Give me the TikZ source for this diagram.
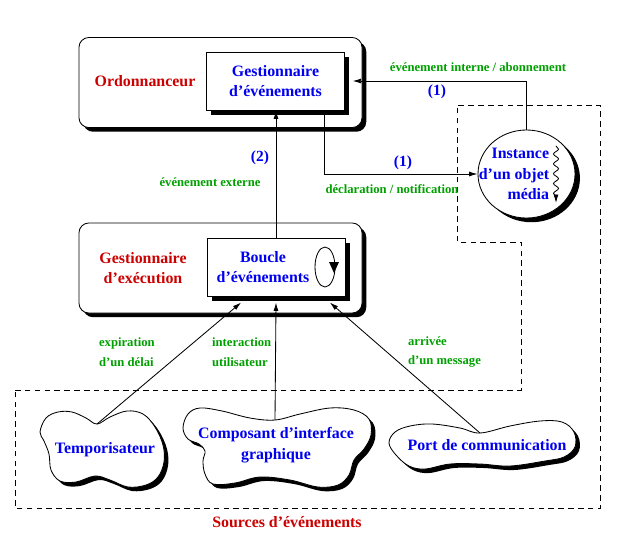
\documentclass[tikz,border=0pt]{standalone}
\usepackage{fontspec}
\setmainfont{Liberation Serif}
\usepackage{tikz}
\usetikzlibrary{shapes.geometric, shadows, arrows.meta, decorations.pathmorphing}

\definecolor{titlered}{RGB}{204,0,0}
\definecolor{textblue}{RGB}{0,0,240}
\definecolor{labelgreen}{RGB}{0,160,0}

\tikzset{
  blackshadow/.style={drop shadow={fill=black, opacity=1, shadow xshift=#1, shadow yshift=-#1}},
  outerbox/.style={draw, fill=white, rounded corners=7pt, minimum width=7.075cm,
    minimum height=2.25cm, blackshadow=3pt},
  innerbox/.style={draw, fill=white, minimum width=3.45cm, minimum height=1.45cm,
    blackshadow=3.5pt},
  bluetext/.style={font=\fontsize{11.3}{14.5}\selectfont\bfseries, text=textblue, align=center},
  redtext/.style={font=\fontsize{11.3}{14.5}\selectfont\bfseries, text=titlered, align=center},
  greentext/.style={font=\fontsize{9}{14}\selectfont\bfseries, text=labelgreen},
  num/.style={font=\fontsize{11}{13}\selectfont\bfseries, text=textblue},
  arr/.style={-{Latex[length=6pt,width=3.5pt]}},
  cloudshade/.style={fill=black},
  cloudbody/.style={draw, fill=white},
}

\begin{document}
\begin{tikzpicture}[x=0.025cm, y=-0.025cm, line width=0.6pt]
\useasboundingbox (0,0) rectangle (643,542);

% zone des sources
\draw[dash pattern=on 4pt off 3pt] (15,390) -- (521,390) -- (521,242) -- (457,242)
  -- (457,105) -- (600,105) -- (600,508) -- (15,508) -- cycle;
\node[redtext] at (287,522) {Sources d’événements};

% ordonnanceur
\node[outerbox] (ordo) at (220.5,82.5) {};
\node[redtext] at (145,81) {Ordonnanceur};
\node[innerbox, bluetext] (gest) at (275.5,81) {Gestionnaire\\d’événements};

% gestionnaire d'execution
\node[outerbox] (exec) at (220.5,268) {};
\node[redtext] at (143,268) {Gestionnaire\\d’exécution};
\node[innerbox] (boucle) at (276,267) {};
\node[bluetext] at (263,267) {Boucle\\d’événements};
\draw (325,267) ellipse (10 and 20);
\fill (329,262) -- (339,262) -- (334,273) -- cycle;

% objet media
\node[draw, fill=white, ellipse, minimum width=2.425cm, minimum height=2.2cm,
  drop shadow={fill=black, opacity=1, shadow xshift=3.5pt, shadow yshift=-3pt}] (inst) at (526.5,174) {};
\node[bluetext, align=right] at (514,174) {Instance\\d’un objet\\média};
\draw[decorate, decoration={snake, amplitude=1.8pt, segment length=7pt, post length=4pt}, arr]
  (556,146) -- (556,203);

% sources
\foreach \s/\st in {4/cloudshade, 0/cloudbody} {
  \path[\st, shift={(\s,\s)}] plot[smooth cycle, tension=0.6] coordinates {
    (40,432) (46,418) (58,412) (72,412) (86,418) (97,424) (110,417) (127,411)
    (143,414) (155,427) (163,445) (164,462) (158,477) (146,485) (128,487)
    (110,480) (95,476) (76,482) (60,481) (51,470) (49,454) (44,441)};
  \path[\st, shift={(\s,\s)}] plot[smooth cycle, tension=0.6] coordinates {
    (183,428) (188,414) (200,408) (222,411) (250,418) (275,420) (300,414)
    (330,408) (354,410) (369,419) (371,435) (364,449) (354,460) (349,475)
    (338,485) (318,487) (290,480) (260,477) (235,483) (213,484) (205,474)
    (203,461) (205,451) (199,444) (188,439)};
  \path[\st, shift={(\s,\s)}] plot[smooth cycle, tension=0.6] coordinates {
    (389,443) (395,432) (410,426) (432,424) (460,428) (480,433) (510,426)
    (540,421) (562,422) (574,432) (575,447) (564,457) (545,461) (510,466)
    (480,464) (450,464) (425,469) (409,466) (396,455)};
}
\node[bluetext] (tempo) at (105,450) {Temporisateur};
\node[bluetext] (compo) at (276,445) {Composant d’interface\\graphique};
\node[bluetext] (port) at (487,445) {Port de communication};
\coordinate (tempotop) at (97,424);
\coordinate (compotop) at (275,420);
\coordinate (porttop) at (480,433);

% connexions
\draw[arr] (inst.north) |- ([xshift=5.5pt]gest.east);
\draw[arr] ([xshift=34.7pt]gest.south) |- (inst.west);
\draw[arr] (boucle.north) -- (boucle.north |- gest.south);
\draw[arr] (tempotop) -- ([xshift=-24.8pt, yshift=-4.3pt]boucle.south);
\draw[arr] (compotop) -- ([yshift=-4.3pt]boucle.south);
\draw[arr] (porttop) -- ([xshift=38.3pt, yshift=-4.3pt]boucle.south);

% etiquettes
\node[greentext] at (478,67) {événement interne / abonnement};
\node[num] at (437,92) {(1)};
\node[num] at (403,163) {(1)};
\node[greentext] at (392,189) {déclaration / notification};
\node[num] at (260,158) {(2)};
\node[greentext] at (210,182) {événement externe};
\node[greentext, anchor=west, align=left] at (94,352) {expiration\\d’un délai};
\node[greentext, anchor=west, align=left] at (207,352) {interaction\\utilisateur};
\node[greentext, anchor=west, align=left] at (403,352) {arrivée\\d’un message};

\end{tikzpicture}
\end{document}
